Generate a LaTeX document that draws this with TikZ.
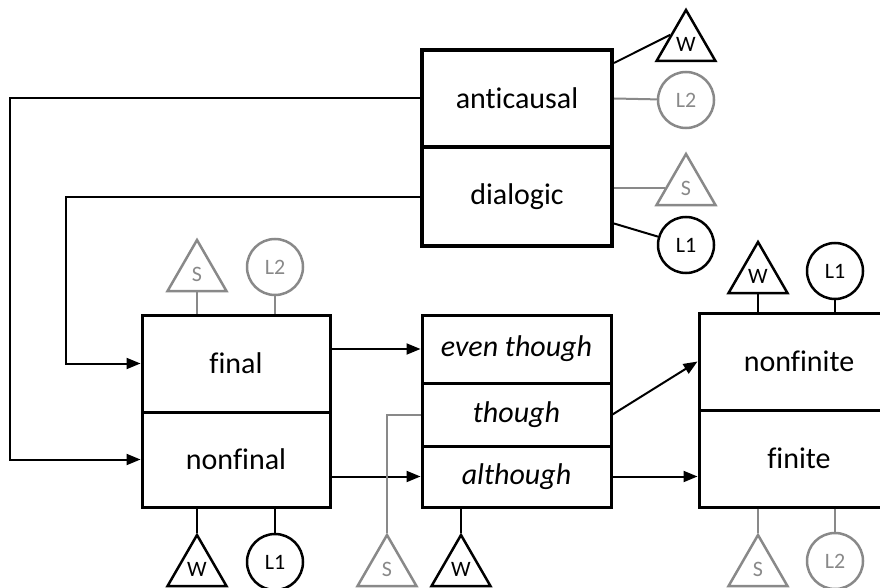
\documentclass[tikz,border=0pt]{standalone}
\usepackage{fontspec}
\setmainfont{Carlito}[Ligatures=NoCommon]
\usetikzlibrary{shapes.geometric,arrows.meta,calc}
\definecolor{lg}{RGB}{137,137,137}
\tikzset{
 part/.style={draw, line width=3pt, inner sep=0pt, font=\fontsize{30}{35}\selectfont},
 ital/.style={font=\fontsize{30}{35}\selectfont\itshape},
 tri/.style={draw, regular polygon, regular polygon sides=3, minimum size=68, inner sep=0pt, line width=2.5pt, font=\fontsize{22}{26}\selectfont},
 circ/.style={draw, circle, minimum size=56, inner sep=0pt, line width=2.5pt, font=\fontsize{22}{26}\selectfont},
 gr/.style={draw=lg, text=lg},
 ln/.style={line width=2pt},
 arr/.style={ln, -{Triangle[length=14pt,width=11pt]}}
}
\begin{document}
\begin{tikzpicture}[x=1pt,y=-1pt]
\useasboundingbox (0,0) rectangle (880,588);
\clip (0,0) rectangle (880,588);
% boxes
\node[part, line width=4pt, minimum width=190, minimum height=97] (ac) at (517,98.5) {anticausal};
\node[part, line width=4pt, minimum width=190, minimum height=99] (dia) at (517,196.5) {dialogic};
\node[part, minimum width=188, minimum height=97] (fin) at (236,363.5) {final};
\node[part, minimum width=188, minimum height=95] (nonfin) at (236,459.5) {nonfinal};
\node[part, ital, minimum width=189, minimum height=68] (eth) at (516.5,349) {even though};
\node[part, ital, minimum width=189, minimum height=63] (th) at (516.5,414.5) {though};
\node[part, ital, minimum width=189, minimum height=61] (alth) at (516.5,476.5) {although};
\node[part, minimum width=200, minimum height=97] (nf) at (799,361.5) {nonfinite};
\node[part, minimum width=200, minimum height=97] (fi) at (799,458.5) {finite};
% small shapes
\node[tri] (wt) at (686,44) {W};
\node[tri, gr] (st) at (686,188) {S};
\node[circ, gr] (l2t) at (686,100) {L2};
\node[circ] (l1t) at (686,245) {L1};
\node[tri, gr] (sl) at (197,274) {S};
\node[circ, gr] (l2l) at (275,267) {L2};
\node[tri] (wl) at (197,569) {W};
\node[circ] (l1l) at (275,562) {L1};
\node[tri, gr] (sm) at (387,569) {S};
\node[tri] (wm) at (461,569) {W};
\node[tri] (wr) at (758,276) {W};
\node[circ] (l1r) at (835,271) {L1};
\node[tri, gr] (sr) at (758,569) {S};
\node[circ, gr] (l2r) at (835,561) {L2};
% connectors
\draw[ln] ($(ac.north east)+(0,15)$) -- (wt.side 1);
\draw[ln, lg] (ac.east) -- (l2t);
\draw[ln, lg] (dia.east |- st.west) -- (st.west);
\draw[ln] ($(dia.east)+(0,27)$) -- (l1t);
\draw[arr] (ac.west) -- ++(-410,0) |- (nonfin.west);
\draw[arr] (dia.west) -- ++(-354,0) |- (fin.west);
\draw[ln, lg] (fin.north -| sl.side 2) -- (sl.side 2);
\draw[ln, lg] (fin.north -| l2l.south) -- (l2l.south);
\draw[ln] (nonfin.south -| wl.corner 1) -- (wl.corner 1);
\draw[ln] (nonfin.south -| l1l.north) -- (l1l.north);
\draw[arr] (fin.east |- eth.west) -- (eth.west);
\draw[arr] (nonfin.east |- alth.west) -- (alth.west);
\draw[ln, lg] (th.west) -| (sm.corner 1);
\draw[ln] (alth.south -| wm.corner 1) -- (wm.corner 1);
\draw[arr] (th.east) -- (nf.west);
\draw[arr] (alth.east) -- (alth.east -| fi.west);
\draw[ln] (nf.north -| wr.side 2) -- (wr.side 2);
\draw[ln] (nf.north -| l1r.south) -- (l1r.south);
\draw[ln, lg] (fi.south -| sr.corner 1) -- (sr.corner 1);
\draw[ln, lg] (fi.south -| l2r.north) -- (l2r.north);
\end{tikzpicture}
\end{document}
